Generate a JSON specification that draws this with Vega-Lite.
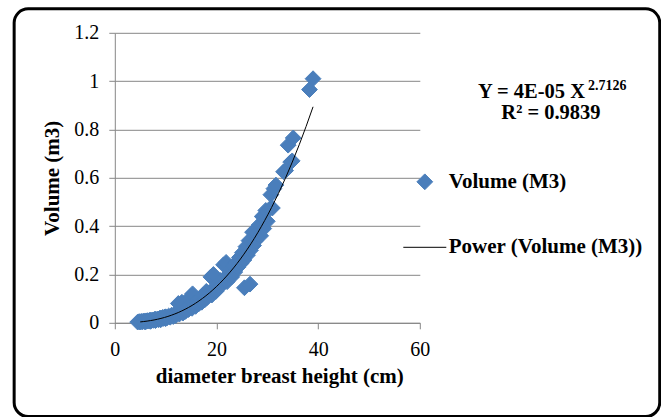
{
  "$schema": "https://vega.github.io/schema/vega-lite/v6.json",
  "width": 305,
  "height": 290,
  "padding": {"left": 11.8, "top": 6.8, "right": 0, "bottom": 0},
  "background": "white",
  "config": {"view": {"stroke": null}, "font": "Liberation Serif",
    "legend": {"orient": "none", "legendX": 288, "legendY": 138.5, "title": null, "padding": 0,
      "labelFont": "Liberation Serif", "labelFontSize": 21, "labelFontWeight": "bold", "labelColor": "black", "labelLimit": 400,
      "rowPadding": 33, "labelOffset": 2, "symbolStrokeWidth": 1}},
  "data": {"values": [
    {"dbh":4.5,"volume":0.003},{"dbh":4.8,"volume":0.005},{"dbh":5,"volume":0.003},{"dbh":5.2,"volume":0.006},{"dbh":5.4,"volume":0.004},{"dbh":5.6,"volume":0.007},{"dbh":5.8,"volume":0.005},{"dbh":6,"volume":0.004},{"dbh":6,"volume":0.008},{"dbh":6.2,"volume":0.006},{"dbh":6.4,"volume":0.009},{"dbh":6.6,"volume":0.007},{"dbh":6.8,"volume":0.01},{"dbh":7,"volume":0.006},{"dbh":7,"volume":0.011},{"dbh":7.2,"volume":0.009},{"dbh":7.4,"volume":0.012},{"dbh":7.6,"volume":0.01},{"dbh":7.8,"volume":0.014},{"dbh":8,"volume":0.009},{"dbh":8,"volume":0.015},{"dbh":8.2,"volume":0.012},{"dbh":8.4,"volume":0.016},{"dbh":8.6,"volume":0.013},{"dbh":8.8,"volume":0.018},{"dbh":9,"volume":0.012},{"dbh":9,"volume":0.02},{"dbh":9.2,"volume":0.016},{"dbh":9.4,"volume":0.022},{"dbh":9.6,"volume":0.018},{"dbh":9.8,"volume":0.024},{"dbh":10,"volume":0.017},{"dbh":10,"volume":0.025},{"dbh":10.3,"volume":0.021},{"dbh":10.6,"volume":0.028},{"dbh":10.9,"volume":0.023},{"dbh":11.2,"volume":0.032},{"dbh":11.5,"volume":0.026},{"dbh":11.8,"volume":0.036},{"dbh":12,"volume":0.03},{"dbh":12.2,"volume":0.042},{"dbh":12.5,"volume":0.08},{"dbh":12.7,"volume":0.036},{"dbh":13,"volume":0.048},{"dbh":13.2,"volume":0.085},{"dbh":13.4,"volume":0.04},{"dbh":13.6,"volume":0.056},{"dbh":13.9,"volume":0.047},{"dbh":14.2,"volume":0.064},{"dbh":14.5,"volume":0.055},{"dbh":14.8,"volume":0.072},{"dbh":15,"volume":0.11},{"dbh":15.3,"volume":0.12},{"dbh":15.2,"volume":0.06},{"dbh":15.6,"volume":0.08},{"dbh":15.9,"volume":0.068},{"dbh":16.2,"volume":0.088},{"dbh":16.5,"volume":0.078},{"dbh":16.8,"volume":0.1},{"dbh":17.1,"volume":0.085},{"dbh":17.4,"volume":0.115},{"dbh":17.7,"volume":0.095},{"dbh":18,"volume":0.13},{"dbh":18.2,"volume":0.105},{"dbh":18.6,"volume":0.125},{"dbh":18.9,"volume":0.19},{"dbh":19.1,"volume":0.115},{"dbh":19.4,"volume":0.2},{"dbh":19.6,"volume":0.14},{"dbh":19.9,"volume":0.13},{"dbh":20.2,"volume":0.16},{"dbh":20.5,"volume":0.145},{"dbh":20.8,"volume":0.175},{"dbh":21.1,"volume":0.16},{"dbh":21.4,"volume":0.24},{"dbh":21.6,"volume":0.185},{"dbh":21.9,"volume":0.25},{"dbh":22.1,"volume":0.17},{"dbh":22.4,"volume":0.2},{"dbh":22.7,"volume":0.22},{"dbh":23,"volume":0.19},{"dbh":23.3,"volume":0.235},{"dbh":23.6,"volume":0.21},{"dbh":23.9,"volume":0.25},{"dbh":24.2,"volume":0.23},{"dbh":24.5,"volume":0.27},{"dbh":24.8,"volume":0.245},{"dbh":25.1,"volume":0.29},{"dbh":25.5,"volume":0.145},{"dbh":26.6,"volume":0.16},{"dbh":25.4,"volume":0.26},{"dbh":25.8,"volume":0.315},{"dbh":26.1,"volume":0.28},{"dbh":26.4,"volume":0.34},{"dbh":26.7,"volume":0.3},{"dbh":27.1,"volume":0.375},{"dbh":27.3,"volume":0.32},{"dbh":27.7,"volume":0.34},{"dbh":28,"volume":0.37},{"dbh":28.4,"volume":0.405},{"dbh":28.7,"volume":0.36},{"dbh":29,"volume":0.44},{"dbh":29.3,"volume":0.39},{"dbh":29.7,"volume":0.465},{"dbh":30,"volume":0.42},{"dbh":30.4,"volume":0.47},{"dbh":30.7,"volume":0.53},{"dbh":31,"volume":0.475},{"dbh":31.3,"volume":0.555},{"dbh":31.7,"volume":0.57},{"dbh":33.2,"volume":0.625},{"dbh":33.6,"volume":0.63},{"dbh":34.1,"volume":0.735},{"dbh":34.6,"volume":0.665},{"dbh":34.9,"volume":0.67},{"dbh":35.1,"volume":0.765},{"dbh":38.3,"volume":0.965},{"dbh":39,"volume":1.01}
  ]},
  "transform": [{"calculate": "'Volume (M3)'", "as": "series"}],
  "layer": [
    {
      "data": {"values": [{}]},
      "mark": {"type": "rect", "cornerRadius": 14, "fill": null, "stroke": "black", "strokeWidth": 3},
      "encoding": {
        "x": {"datum": -19.8, "type": "quantitative", "scale": {"domain": [0, 60], "nice": false, "zero": false}},
        "x2": {"datum": 107.2},
        "y": {"datum": 1.299, "type": "quantitative", "scale": {"domain": [0, 1.2], "nice": false}},
        "y2": {"datum": -0.3877}
      }
    },
    {
      "mark": {"type": "point", "filled": true, "opacity": 1, "strokeWidth": 1},
      "encoding": {
        "x": {"field": "dbh", "type": "quantitative",
          "scale": {"domain": [0, 60], "nice": false, "zero": false},
          "axis": {"values": [0, 20, 40, 60], "grid": false, "domainColor": "#868686", "tickColor": "#868686", "tickSize": 6,
            "labelFont": "Liberation Serif", "labelFontSize": 20, "labelColor": "black", "labelPadding": 11, "labelFlush": false,
            "title": "diameter breast height (cm)", "titleFont": "Liberation Serif", "titleFontSize": 21, "titleFontWeight": "bold",
            "titleColor": "black", "titlePadding": 6, "titleX": 164.5}},
        "y": {"field": "volume", "type": "quantitative",
          "scale": {"domain": [0, 1.2], "nice": false},
          "axis": {"values": [0, 0.2, 0.4, 0.6, 0.8, 1, 1.2], "format": "~g", "grid": true, "gridColor": "#868686", "gridWidth": 1,
            "domainColor": "#868686", "tickColor": "#868686", "tickSize": 6,
            "labelFont": "Liberation Serif", "labelFontSize": 20, "labelColor": "black", "labelPadding": 10, "labelFlush": false,
            "title": "Volume (m3)", "titleFont": "Liberation Serif", "titleFontSize": 21, "titleFontWeight": "bold",
            "titleColor": "black", "titleX": -52, "titleBaseline": "bottom", "titleAngle": -90}},
        "color": {"field": "series", "type": "nominal",
          "scale": {"domain": ["Volume (M3)", "Power (Volume (M3))"], "range": ["#4A7EBB", "black"]}},
        "stroke": {"field": "series", "type": "nominal",
          "scale": {"domain": ["Volume (M3)", "Power (Volume (M3))"], "range": ["#4A7EBB", "black"]}},
        "shape": {"field": "series", "type": "nominal",
          "scale": {"domain": ["Volume (M3)", "Power (Volume (M3))"], "range": ["diamond", "stroke"]}},
        "size": {"field": "series", "type": "nominal",
          "scale": {"type": "ordinal", "domain": ["Volume (M3)", "Power (Volume (M3))"], "range": [250, 1849]}}
      }
    },
    {
      "transform": [{"regression": "volume", "on": "dbh", "method": "pow", "extent": [5, 39]}],
      "mark": {"type": "line", "color": "black", "strokeWidth": 1},
      "encoding": {
        "x": {"field": "dbh", "type": "quantitative", "scale": {"domain": [0, 60], "nice": false, "zero": false}},
        "y": {"field": "volume", "type": "quantitative", "scale": {"domain": [0, 1.2], "nice": false}}
      }
    },
    {
      "data": {"values": [{}]},
      "mark": {"type": "text", "text": "Y = 4E-05 X", "align": "right", "baseline": "alphabetic", "font": "Liberation Serif", "fontSize": 20.5, "fontWeight": "bold", "color": "black"},
      "encoding": {
        "x": {"datum": 92.5, "type": "quantitative", "scale": {"domain": [0, 60], "nice": false, "zero": false}},
        "y": {"datum": 0.931, "type": "quantitative", "scale": {"domain": [0, 1.2], "nice": false}}
      }
    },
    {
      "data": {"values": [{}]},
      "mark": {"type": "text", "text": "2.7126", "align": "left", "baseline": "alphabetic", "font": "Liberation Serif", "fontSize": 14, "fontWeight": "bold", "color": "black", "dx": 3},
      "encoding": {
        "x": {"datum": 92.5, "type": "quantitative", "scale": {"domain": [0, 60], "nice": false, "zero": false}},
        "y": {"datum": 0.964, "type": "quantitative", "scale": {"domain": [0, 1.2], "nice": false}}
      }
    },
    {
      "data": {"values": [{}]},
      "mark": {"type": "text", "text": "R² = 0.9839", "align": "center", "baseline": "alphabetic", "font": "Liberation Serif", "fontSize": 20.5, "fontWeight": "bold", "color": "black"},
      "encoding": {
        "x": {"datum": 85.8, "type": "quantitative", "scale": {"domain": [0, 60], "nice": false, "zero": false}},
        "y": {"datum": 0.844, "type": "quantitative", "scale": {"domain": [0, 1.2], "nice": false}}
      }
    }
  ]
}
